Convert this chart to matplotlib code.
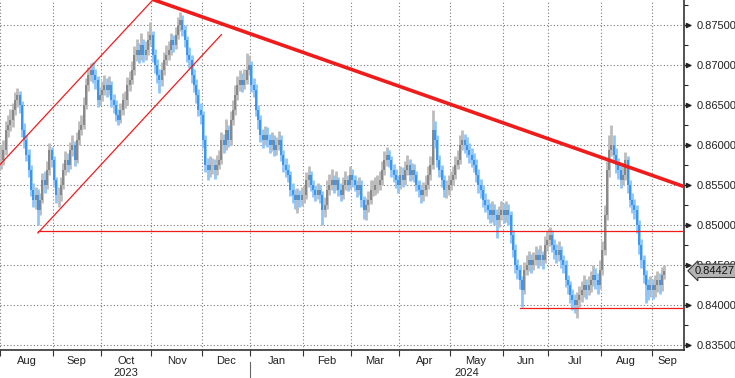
import numpy as np
import pandas as pd
import matplotlib
matplotlib.use('Agg')
import matplotlib.pyplot as plt
from matplotlib.ticker import MultipleLocator
from matplotlib.transforms import offset_copy

plt.rcParams['font.family'] = ['Liberation Sans Narrow', 'Liberation Sans', 'DejaVu Sans']

# daily bars, Aug 2023 - Sep 2024
dates = pd.bdate_range('2023-08-01', '2024-09-09')

closes = [
    0.8581, 0.8594, 0.8619, 0.8625, 0.8631, 0.8644, 0.8656, 0.8663, 0.8650, 0.8619,
    0.8606, 0.8588, 0.8569, 0.8544, 0.8531, 0.8538, 0.8519, 0.8531, 0.8556, 0.8550,
    0.8569, 0.8594, 0.8581, 0.8556, 0.8538, 0.8538, 0.8550, 0.8569, 0.8581, 0.8575,
    0.8594, 0.8600, 0.8581, 0.8606, 0.8619, 0.8625, 0.8650, 0.8675, 0.8688, 0.8694,
    0.8688, 0.8681, 0.8656, 0.8663, 0.8669, 0.8675, 0.8669, 0.8675, 0.8656, 0.8650,
    0.8638, 0.8631, 0.8644, 0.8656, 0.8656, 0.8675, 0.8681, 0.8694, 0.8713, 0.8719,
    0.8713, 0.8725, 0.8713, 0.8719, 0.8731, 0.8738, 0.8713, 0.8700, 0.8688, 0.8681,
    0.8694, 0.8706, 0.8713, 0.8719, 0.8731, 0.8725, 0.8738, 0.8750, 0.8756, 0.8744,
    0.8731, 0.8713, 0.8706, 0.8688, 0.8675, 0.8663, 0.8644, 0.8638, 0.8606, 0.8575,
    0.8569, 0.8575, 0.8575, 0.8569, 0.8575, 0.8581, 0.8606, 0.8600, 0.8619, 0.8606,
    0.8631, 0.8644, 0.8663, 0.8675, 0.8681, 0.8675, 0.8681, 0.8694, 0.8700, 0.8675,
    0.8669, 0.8644, 0.8631, 0.8613, 0.8606, 0.8613, 0.8606, 0.8600, 0.8606, 0.8594,
    0.8600, 0.8606, 0.8588, 0.8575, 0.8569, 0.8563, 0.8544, 0.8538, 0.8531, 0.8538,
    0.8531, 0.8538, 0.8538, 0.8556, 0.8563, 0.8550, 0.8544, 0.8538, 0.8544, 0.8538,
    0.8519, 0.8525, 0.8544, 0.8550, 0.8556, 0.8550, 0.8556, 0.8544, 0.8538, 0.8550,
    0.8556, 0.8550, 0.8563, 0.8556, 0.8550, 0.8544, 0.8550, 0.8531, 0.8519, 0.8525,
    0.8531, 0.8544, 0.8544, 0.8550, 0.8550, 0.8556, 0.8569, 0.8581, 0.8588, 0.8581,
    0.8569, 0.8563, 0.8556, 0.8550, 0.8563, 0.8556, 0.8569, 0.8575, 0.8563, 0.8569,
    0.8563, 0.8550, 0.8544, 0.8538, 0.8544, 0.8550, 0.8563, 0.8575, 0.8619, 0.8606,
    0.8581, 0.8569, 0.8556, 0.8544, 0.8544, 0.8550, 0.8556, 0.8563, 0.8575, 0.8581,
    0.8600, 0.8606, 0.8600, 0.8594, 0.8588, 0.8581, 0.8575, 0.8563, 0.8550, 0.8544,
    0.8531, 0.8525, 0.8519, 0.8513, 0.8519, 0.8513, 0.8506, 0.8513, 0.8519, 0.8513,
    0.8519, 0.8513, 0.8488, 0.8469, 0.8450, 0.8444, 0.8431, 0.8419, 0.8444, 0.8450,
    0.8456, 0.8450, 0.8456, 0.8463, 0.8456, 0.8463, 0.8456, 0.8475, 0.8481, 0.8488,
    0.8475, 0.8469, 0.8463, 0.8469, 0.8456, 0.8450, 0.8431, 0.8425, 0.8413, 0.8406,
    0.8400, 0.8406, 0.8413, 0.8419, 0.8425, 0.8419, 0.8425, 0.8431, 0.8438, 0.8431,
    0.8425, 0.8444, 0.8469, 0.8513, 0.8569, 0.8594, 0.8600, 0.8588, 0.8575, 0.8569,
    0.8556, 0.8563, 0.8581, 0.8550, 0.8531, 0.8525, 0.8519, 0.8500, 0.8475, 0.8456,
    0.8438, 0.8425, 0.8419, 0.8425, 0.8419, 0.8425, 0.8431, 0.8425, 0.8438, 0.84427,
]

highs = [
    0.8600, 0.8606, 0.8630, 0.8638, 0.8645, 0.8652, 0.8666, 0.8671, 0.8668, 0.8655,
    0.8628, 0.8612, 0.8595, 0.8575, 0.8552, 0.8548, 0.8545, 0.8540, 0.8565, 0.8568,
    0.8580, 0.8602, 0.8598, 0.8586, 0.8560, 0.8548, 0.8560, 0.8578, 0.8592, 0.8590,
    0.8604, 0.8612, 0.8605, 0.8616, 0.8630, 0.8638, 0.8660, 0.8684, 0.8698, 0.8702,
    0.8704, 0.8695, 0.8686, 0.8672, 0.8680, 0.8688, 0.8684, 0.8686, 0.8680, 0.8664,
    0.8656, 0.8645, 0.8652, 0.8665, 0.8668, 0.8685, 0.8692, 0.8705, 0.8724, 0.8732,
    0.8728, 0.8740, 0.8732, 0.8730, 0.8742, 0.8754, 0.8742, 0.8720, 0.8708, 0.8695,
    0.8704, 0.8716, 0.8725, 0.8730, 0.8740, 0.8738, 0.8748, 0.8760, 0.8766, 0.8762,
    0.8750, 0.8736, 0.8722, 0.8712, 0.8695, 0.8682, 0.8670, 0.8652, 0.8642, 0.8612,
    0.8584, 0.8586, 0.8584, 0.8582, 0.8588, 0.8594, 0.8616, 0.8614, 0.8632, 0.8625,
    0.8642, 0.8656, 0.8675, 0.8686, 0.8694, 0.8690, 0.8695, 0.8715, 0.8712, 0.8705,
    0.8684, 0.8676, 0.8650, 0.8638, 0.8620, 0.8624, 0.8622, 0.8614, 0.8616, 0.8612,
    0.8610, 0.8618, 0.8612, 0.8594, 0.8584, 0.8576, 0.8568, 0.8552, 0.8545, 0.8546,
    0.8544, 0.8548, 0.8550, 0.8566, 0.8574, 0.8568, 0.8556, 0.8550, 0.8552, 0.8550,
    0.8542, 0.8535, 0.8556, 0.8564, 0.8570, 0.8562, 0.8568, 0.8560, 0.8552, 0.8560,
    0.8568, 0.8562, 0.8574, 0.8570, 0.8562, 0.8556, 0.8560, 0.8556, 0.8536, 0.8534,
    0.8542, 0.8556, 0.8556, 0.8560, 0.8562, 0.8568, 0.8580, 0.8592, 0.8598, 0.8594,
    0.8586, 0.8576, 0.8570, 0.8562, 0.8574, 0.8572, 0.8580, 0.8588, 0.8582, 0.8578,
    0.8576, 0.8568, 0.8556, 0.8550, 0.8554, 0.8562, 0.8574, 0.8586, 0.8644, 0.8630,
    0.8612, 0.8588, 0.8575, 0.8562, 0.8556, 0.8562, 0.8568, 0.8574, 0.8586, 0.8594,
    0.8612, 0.8619, 0.8614, 0.8610, 0.8602, 0.8596, 0.8590, 0.8582, 0.8570, 0.8558,
    0.8550, 0.8540, 0.8532, 0.8528, 0.8530, 0.8526, 0.8520, 0.8524, 0.8530, 0.8528,
    0.8530, 0.8526, 0.8518, 0.8494, 0.8476, 0.8458, 0.8450, 0.8436, 0.8454, 0.8462,
    0.8468, 0.8464, 0.8466, 0.8474, 0.8470, 0.8475, 0.8468, 0.8486, 0.8492, 0.8497,
    0.8494, 0.8482, 0.8476, 0.8480, 0.8474, 0.8462, 0.8456, 0.8438, 0.8430, 0.8420,
    0.8414, 0.8416, 0.8424, 0.8430, 0.8438, 0.8432, 0.8436, 0.8442, 0.8450, 0.8446,
    0.8440, 0.8456, 0.8480, 0.8525, 0.8580, 0.8612, 0.8625, 0.8612, 0.8596, 0.8584,
    0.8576, 0.8574, 0.8591, 0.8586, 0.8556, 0.8540, 0.8532, 0.8525, 0.8506, 0.8482,
    0.8462, 0.8444, 0.8432, 0.8436, 0.8432, 0.8438, 0.8442, 0.8440, 0.8448, 0.8450,
]

lows = [
    0.8570, 0.8575, 0.8588, 0.8610, 0.8618, 0.8622, 0.8638, 0.8648, 0.8640, 0.8610,
    0.8596, 0.8580, 0.8560, 0.8536, 0.8522, 0.8520, 0.8500, 0.8512, 0.8528, 0.8540,
    0.8545, 0.8562, 0.8572, 0.8548, 0.8528, 0.8522, 0.8530, 0.8545, 0.8562, 0.8566,
    0.8570, 0.8586, 0.8574, 0.8578, 0.8600, 0.8612, 0.8620, 0.8645, 0.8668, 0.8680,
    0.8678, 0.8670, 0.8648, 0.8650, 0.8655, 0.8662, 0.8660, 0.8662, 0.8648, 0.8640,
    0.8630, 0.8625, 0.8627, 0.8638, 0.8646, 0.8650, 0.8668, 0.8676, 0.8688, 0.8705,
    0.8702, 0.8706, 0.8704, 0.8706, 0.8712, 0.8724, 0.8704, 0.8690, 0.8678, 0.8665,
    0.8674, 0.8688, 0.8700, 0.8706, 0.8712, 0.8716, 0.8720, 0.8732, 0.8742, 0.8736,
    0.8722, 0.8704, 0.8696, 0.8678, 0.8666, 0.8652, 0.8636, 0.8626, 0.8596, 0.8566,
    0.8556, 0.8560, 0.8564, 0.8558, 0.8562, 0.8570, 0.8576, 0.8590, 0.8594, 0.8598,
    0.8600, 0.8625, 0.8638, 0.8656, 0.8668, 0.8666, 0.8670, 0.8676, 0.8688, 0.8666,
    0.8660, 0.8636, 0.8620, 0.8604, 0.8596, 0.8600, 0.8598, 0.8590, 0.8592, 0.8586,
    0.8588, 0.8594, 0.8580, 0.8566, 0.8560, 0.8554, 0.8536, 0.8528, 0.8520, 0.8515,
    0.8522, 0.8524, 0.8528, 0.8532, 0.8548, 0.8542, 0.8535, 0.8530, 0.8532, 0.8528,
    0.8500, 0.8510, 0.8520, 0.8538, 0.8544, 0.8540, 0.8544, 0.8536, 0.8530, 0.8532,
    0.8544, 0.8542, 0.8545, 0.8548, 0.8542, 0.8535, 0.8538, 0.8522, 0.8508, 0.8506,
    0.8516, 0.8526, 0.8536, 0.8538, 0.8540, 0.8544, 0.8550, 0.8562, 0.8574, 0.8572,
    0.8560, 0.8554, 0.8546, 0.8540, 0.8545, 0.8548, 0.8550, 0.8562, 0.8555, 0.8556,
    0.8554, 0.8542, 0.8535, 0.8528, 0.8530, 0.8536, 0.8545, 0.8556, 0.8570, 0.8596,
    0.8572, 0.8560, 0.8548, 0.8535, 0.8534, 0.8538, 0.8544, 0.8550, 0.8558, 0.8570,
    0.8576, 0.8594, 0.8590, 0.8585, 0.8578, 0.8572, 0.8566, 0.8554, 0.8540, 0.8534,
    0.8522, 0.8516, 0.8508, 0.8502, 0.8504, 0.8500, 0.8484, 0.8498, 0.8506, 0.8502,
    0.8504, 0.8500, 0.8478, 0.8460, 0.8440, 0.8432, 0.8420, 0.8397, 0.8414, 0.8438,
    0.8442, 0.8440, 0.8444, 0.8450, 0.8446, 0.8450, 0.8445, 0.8452, 0.8468, 0.8474,
    0.8466, 0.8458, 0.8452, 0.8455, 0.8446, 0.8440, 0.8422, 0.8414, 0.8402, 0.8394,
    0.8390, 0.8384, 0.8398, 0.8404, 0.8410, 0.8408, 0.8412, 0.8416, 0.8424, 0.8420,
    0.8414, 0.8420, 0.8438, 0.8462, 0.8506, 0.8560, 0.8586, 0.8578, 0.8565, 0.8558,
    0.8546, 0.8550, 0.8556, 0.8540, 0.8522, 0.8515, 0.8508, 0.8490, 0.8464, 0.8446,
    0.8428, 0.8402, 0.8406, 0.8410, 0.8408, 0.8410, 0.8416, 0.8414, 0.8418, 0.8432,
]

last_price = 0.84427

# drawn trend lines: (date, level)
resistance = [('2023-11-01', 0.8782), ('2024-08-01', 0.8584)]
channel_upper = [('2023-08-01', 0.8577), ('2023-11-01', 0.8781)]
channel_lower = [('2023-08-23', 0.8490), ('2023-12-13', 0.8738)]
support_upper = ('2023-08-23', 0.8493)
support_lower = ('2024-06-12', 0.8396)

y_ticks = [0.835, 0.840, 0.845, 0.850, 0.855, 0.860, 0.865, 0.870, 0.875]


def idx(d):
    return dates.get_loc(pd.Timestamp(d))


fig = plt.figure(figsize=(7.35, 3.78), dpi=100)
ax = fig.add_axes([0, 28 / 378, 684 / 735, 350 / 378])

x = np.arange(len(dates))
c = np.array(closes)
o = np.r_[c[0], c[:-1]]
down = c < o
light = ['#8ec5fa' if d else '#bcbcbc' for d in down]
dark = ['#2a8ef0' if d else '#7e7e7e' for d in down]
ax.vlines(x, lows, highs, colors=light, linewidth=2.0, zorder=3)
ax.vlines(x, np.minimum(o, c), np.maximum(o, c), colors=dark, linewidth=1.2, zorder=3)

x_left, x_right = 0.05, 297.6
ax.set_xlim(x_left, x_right)
ax.set_ylim(0.834375, 0.878125)

red = '#f01c1c'
ax.axline((idx(resistance[0][0]), resistance[0][1]),
          (idx(resistance[1][0]), resistance[1][1]), color=red, lw=2.6, zorder=4)
ax.axline((idx(channel_upper[0][0]), channel_upper[0][1]),
          (idx(channel_upper[1][0]), channel_upper[1][1]), color=red, lw=0.9, zorder=4)
ax.plot([idx(channel_lower[0][0]), idx(channel_lower[1][0])],
        [channel_lower[0][1], channel_lower[1][1]], color=red, lw=0.9, zorder=4)
ax.plot([idx(support_upper[0]), x_right], [support_upper[1]] * 2, color=red, lw=0.9, zorder=4)
ax.plot([idx(support_lower[0]), x_right], [support_lower[1]] * 2, color=red, lw=0.9, zorder=4)

# month boundaries
month_start = [i for i in range(len(dates)) if i == 0 or dates[i].month != dates[i - 1].month]
bounds = [i - 0.5 for i in month_start]
ax.set_xticks(bounds)
ax.set_xticklabels([])
ax.tick_params(axis='x', which='major', length=4, width=0.8, color='#333333')

edges = bounds + [x_right]
for k, s in enumerate(month_start):
    lo, hi = max(edges[k], x_left), edges[k + 1]
    ax.annotate(dates[s].strftime('%b'), xy=((lo + hi) / 2, 0),
                xycoords=('data', 'axes fraction'), xytext=(0, -11),
                textcoords='offset pixels', ha='center', va='center',
                fontsize=8, color='#222222', annotation_clip=False)

# year labels and separator
jan = [b for b, s in zip(bounds, month_start) if dates[s].month == 1][0]
for yr, lo, hi in [('2023', x_left, jan), ('2024', jan, x_right)]:
    ax.annotate(yr, xy=((lo + hi) / 2, 0), xycoords=('data', 'axes fraction'),
                xytext=(0, -23), textcoords='offset pixels', ha='center', va='center',
                fontsize=8, color='#222222', annotation_clip=False)
ax.plot([jan, jan], [-12 / 350, -28 / 350], transform=ax.get_xaxis_transform(),
        color='#666666', lw=0.8, clip_on=False)

# y axis on the right
ax.yaxis.tick_right()
ax.set_yticks(y_ticks)
ax.set_yticklabels([f'{v:.5f}' for v in y_ticks])
ax.yaxis.set_minor_locator(MultipleLocator(0.0025))
ax.tick_params(axis='y', which='major', length=5, width=0.9, pad=4,
               labelsize=8, colors='#222222')
ax.tick_params(axis='y', which='minor', length=3, width=0.8, color='#222222')
ax.plot([1] * len(y_ticks), y_ticks, ls='none', marker='>', ms=3, color='#222222',
        transform=offset_copy(ax.get_yaxis_transform(), fig=fig, x=4, units='dots'),
        clip_on=False)

ax.grid(True, which='major', linestyle=(0, (1, 2)), color='#7a7a7a', lw=0.8)
ax.set_axisbelow(True)

for side in ['top', 'left']:
    ax.spines[side].set_visible(False)
for side in ['right', 'bottom']:
    ax.spines[side].set_color('#333333')
    ax.spines[side].set_linewidth(1.2)

ax.annotate(f'{last_price:.5f}', xy=(1, last_price), xycoords=('axes fraction', 'data'),
            xytext=(11, 0), textcoords='offset pixels', ha='left', va='center',
            fontsize=8, color='#111111', annotation_clip=False, zorder=10,
            bbox=dict(boxstyle='larrow,pad=0.15', fc='#b3b3b3', ec='#3a3a3a', lw=0.8))

plt.savefig('out.png', dpi=100)
plt.close()
